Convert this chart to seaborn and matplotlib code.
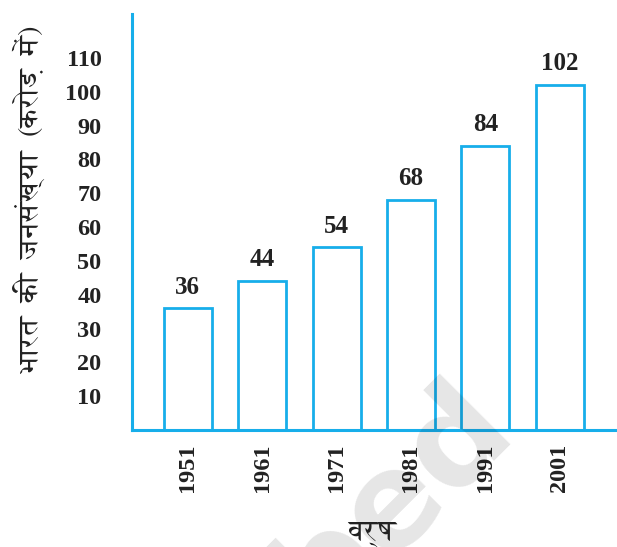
import os
import matplotlib
matplotlib.use("Agg")
import matplotlib.pyplot as plt
from matplotlib import font_manager
from matplotlib.ft2font import FT2Font
import seaborn as sns
import pandas as pd

# Census years and population of India (crore)
years = ["1951", "1961", "1971", "1981", "1991", "2001"]
population = [36, 44, 54, 68, 84, 102]
y_ticks = [10, 20, 30, 40, 50, 60, 70, 80, 90, 100, 110]

y_title = "भारत  की  जनसंख्या  (करोड़  में)"
x_title = "वर्ष"

BLUE = "#17aeea"

PREFERRED_DEVANAGARI = [
    "/usr/share/fonts/truetype/freefont/FreeSerif.ttf",
    "/usr/share/fonts/truetype/freefont/FreeSans.ttf",
]


def devanagari_family():
    """Return a family name with proper Devanagari glyphs (not a bitmap fallback)."""
    candidates = [p for p in PREFERRED_DEVANAGARI if os.path.exists(p)]
    candidates += [p for p in sorted(font_manager.findSystemFonts())
                   if "unifont" not in p.lower()]
    for path in candidates:
        try:
            if ord("भ") in FT2Font(path).get_charmap():
                font_manager.fontManager.addfont(path)
                return font_manager.FontProperties(fname=path).get_name()
        except Exception:
            continue
    return None


sns.set_theme(style="white")
plt.rcParams["font.family"] = ["Liberation Serif", "DejaVu Serif"]
deva = devanagari_family()
deva_family = [deva, "DejaVu Sans"] if deva else ["DejaVu Sans"]

df = pd.DataFrame({"year": years, "population": population})

fig = plt.figure(figsize=(6.17, 5.47), dpi=100)
ax = fig.add_axes([132 / 617, 1 - 430 / 547, 1 - 132 / 617, (430 - 14) / 547])

sns.barplot(data=df, x="year", y="population", ax=ax, color="white",
            edgecolor=BLUE, linewidth=2.0, width=0.645, saturation=1)

ax.set_xlim(-0.75, 5.77)
ax.set_ylim(0, 123)

# value labels above each bar
for i, v in enumerate(population):
    ax.annotate(str(v), (i, v), xytext=(0, 7), textcoords="offset points",
                ha="center", va="bottom", fontsize=18, color="#222222",
                fontweight="bold")

ax.set_yticks(y_ticks)
ax.set_yticklabels([str(t) for t in y_ticks], fontsize=17.5, fontweight="bold",
                   color="#222222")
ax.set_xticks(range(len(years)))
ax.set_xticklabels(years, rotation=90, fontsize=17.5, fontweight="bold",
                   color="#222222", va="top")
ax.tick_params(axis="y", direction="out", length=10, width=2, color=BLUE, pad=12)
ax.tick_params(axis="x", length=0, pad=10)

for side in ("top", "right"):
    ax.spines[side].set_visible(False)
for side in ("left", "bottom"):
    ax.spines[side].set_color(BLUE)
    ax.spines[side].set_linewidth(2.2)

ax.set_xlabel("")
ax.set_ylabel("")
fig.text(30 / 617, 1 - 200 / 547, y_title, rotation=90, ha="center", va="center",
         fontsize=20, family=deva_family, color="#222222")
fig.text(372 / 617, 1 - 535 / 547, x_title, ha="center", va="center",
         fontsize=21, family=deva_family, color="#222222")

# faint publisher watermark
fig.text(392 / 617, 1 - 500 / 547, "bed", rotation=45, ha="center", va="center",
         fontsize=95, fontweight="bold", family="DejaVu Sans", color="#000000",
         alpha=0.1, zorder=0)

fig.savefig("out.png", dpi=100)
